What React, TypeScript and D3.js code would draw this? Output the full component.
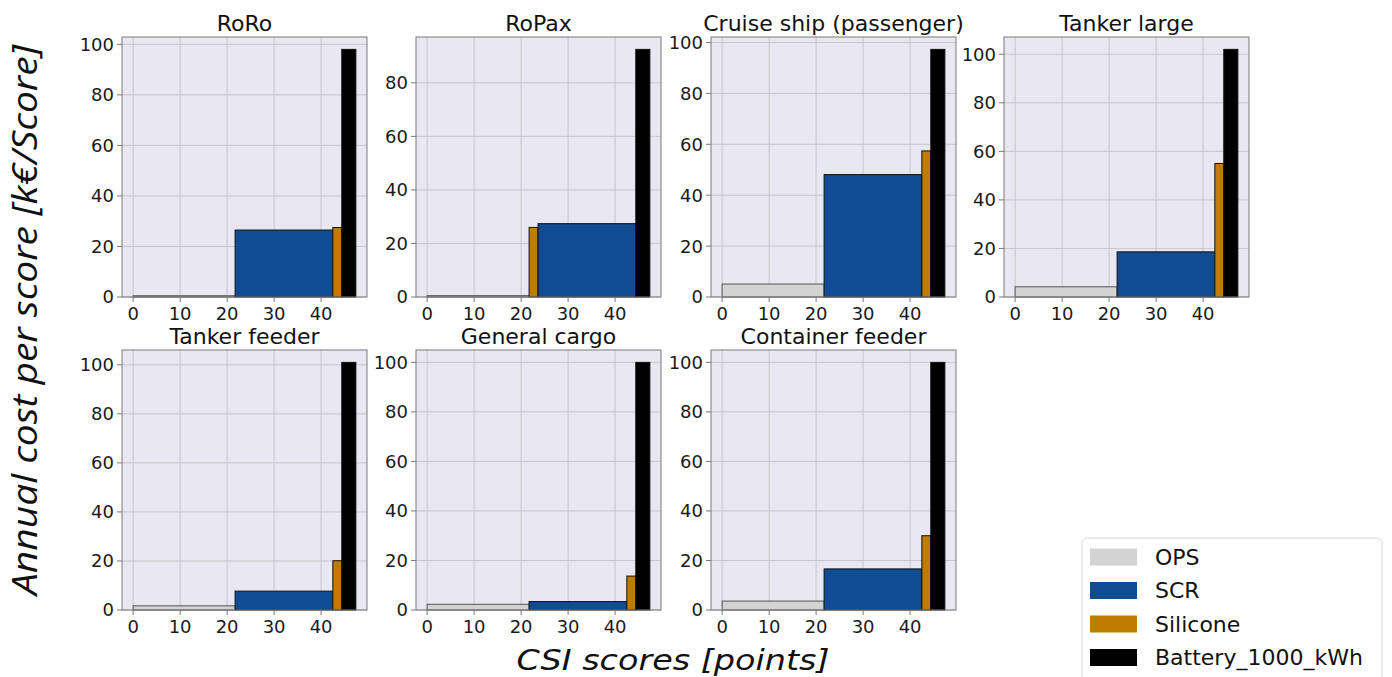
import * as d3 from 'd3';
import React from 'react';

// ship types, one panel each
const shipTypes = [
    'RoRo',
    'RoPax',
    'Cruise ship (passenger)',
    'Tanker large',
    'Tanker feeder',
    'General cargo',
    'Container feeder',
];

// measures and the CSI score each one gives (bar width)
const measures = ['OPS', 'SCR', 'Silicone', 'Battery_1000_kWh'];
const scoreWidths = [21.7, 20.8, 1.9, 3.0];

// annual cost per score [k€/Score], one value per ship type
const opsCost = [0.5, 0.5, 5.1, 4.2, 1.7, 2.3, 3.6];
const scrCost = [26.5, 27.4, 48.1, 18.6, 7.7, 3.4, 16.6];
const siliconeCost = [27.5, 26.0, 57.4, 55.0, 20.1, 13.7, 30.0];
const batteryCost = [98, 92.5, 97.3, 102, 101, 100, 100];

const colors: Record<string, string> = {
    OPS: '#d3d3d3',
    SCR: '#0f4c92',
    Silicone: '#c07c00',
    Battery_1000_kWh: '#000000',
};

const colLeft = [122, 416, 711, 1004];
const rowTop = [37, 350];
const panelW = 245;
const panelH = 260;
const font = 'DejaVu Sans, sans-serif';

interface Step {
    measure: string;
    x0: number;
    x1: number;
    cost: number;
}

const Panel: React.FC<{ index: number }> = ({ index }) => {
    const left = colLeft[index % 4];
    const top = rowTop[Math.floor(index / 4)];
    const costs = [opsCost[index], scrCost[index], siliconeCost[index], batteryCost[index]];

    // sort measures by cost, like a cost curve
    const order = d3.range(measures.length).sort((a, b) => costs[a] - costs[b]);
    let acc = 0;
    const steps: Step[] = order.map(i => {
        const s = { measure: measures[i], x0: acc, x1: acc + scoreWidths[i], cost: costs[i] };
        acc += scoreWidths[i];
        return s;
    });

    const total = acc;
    const x = d3
        .scaleLinear()
        .domain([-0.05 * total, total * 1.05])
        .range([0, panelW]);
    const yMax = d3.max(costs)! * 1.05;
    const y = d3.scaleLinear().domain([0, yMax]).range([panelH, 0]);

    const xTicks = x.ticks(5).filter(t => t >= 0);
    const yTicks = y.ticks(6);

    return (
        <g transform={`translate(${left},${top})`}>
            <rect width={panelW} height={panelH} fill="#e9e7f1" />
            {xTicks.map(t => (
                <line key={'gx' + t} x1={x(t)} x2={x(t)} y1={0} y2={panelH} stroke="#c6c6ca" strokeWidth={1} />
            ))}
            {yTicks.map(t => (
                <line key={'gy' + t} x1={0} x2={panelW} y1={y(t)} y2={y(t)} stroke="#c6c6ca" strokeWidth={1} />
            ))}
            {steps.map(s => (
                <rect
                    key={s.measure}
                    x={x(s.x0)}
                    y={y(s.cost)}
                    width={x(s.x1) - x(s.x0)}
                    height={panelH - y(s.cost)}
                    fill={colors[s.measure]}
                    stroke={s.measure === 'OPS' ? '#555' : '#111'}
                    strokeWidth={1}
                />
            ))}
            <rect width={panelW} height={panelH} fill="none" stroke="#7a7a7a" strokeWidth={1} />
            {xTicks.map(t => (
                <g key={'tx' + t} transform={`translate(${x(t)},${panelH})`}>
                    <line y2={5} stroke="#7a7a7a" />
                    <text y={23} textAnchor="middle" fontSize={18} fontFamily={font} fill="#1a1a1a">
                        {t}
                    </text>
                </g>
            ))}
            {yTicks.map(t => (
                <g key={'ty' + t} transform={`translate(0,${y(t)})`}>
                    <line x2={-5} stroke="#7a7a7a" />
                    <text x={-8} dy="0.36em" textAnchor="end" fontSize={18} fontFamily={font} fill="#1a1a1a">
                        {t}
                    </text>
                </g>
            ))}
            <text x={panelW / 2} y={-6} textAnchor="middle" fontSize={22} fontFamily={font} fill="#111">
                {shipTypes[index]}
            </text>
        </g>
    );
};

const Legend: React.FC = () => (
    <g>
        <rect x={1082} y={538} width={300} height={150} rx={5} fill="#fff" stroke="#d4d4d4" />
        {measures.map((m, i) => (
            <g key={m} transform={`translate(1090,${557 + i * 33.5})`}>
                <rect y={-8.5} width={47} height={17} fill={colors[m]} />
                <text x={65} dy="0.36em" fontSize={22} fontFamily={font} fill="#111">
                    {m}
                </text>
            </g>
        ))}
    </g>
);

export default function App() {
    return (
        <svg
            width={1392}
            height={677}
            style={{ position: 'absolute', left: 0, top: 0, background: '#fff' }}
        >
            {shipTypes.map((_, i) => (
                <Panel key={i} index={i} />
            ))}
            <Legend />
            <text
                transform="translate(37,320) rotate(-90)"
                textAnchor="middle"
                fontSize={35}
                fontStyle="italic"
                fontFamily="Open Sans, sans-serif"
                fill="#111"
                textLength={550}
                lengthAdjust="spacingAndGlyphs"
            >
                Annual cost per score [k€/Score]
            </text>
            <text
                x={673}
                y={670}
                textAnchor="middle"
                fontSize={29}
                fontStyle="italic"
                fontFamily="DejaVu Sans, sans-serif"
                fill="#111"
                textLength={313}
                lengthAdjust="spacingAndGlyphs"
            >
                CSI scores [points]
            </text>
        </svg>
    );
}
